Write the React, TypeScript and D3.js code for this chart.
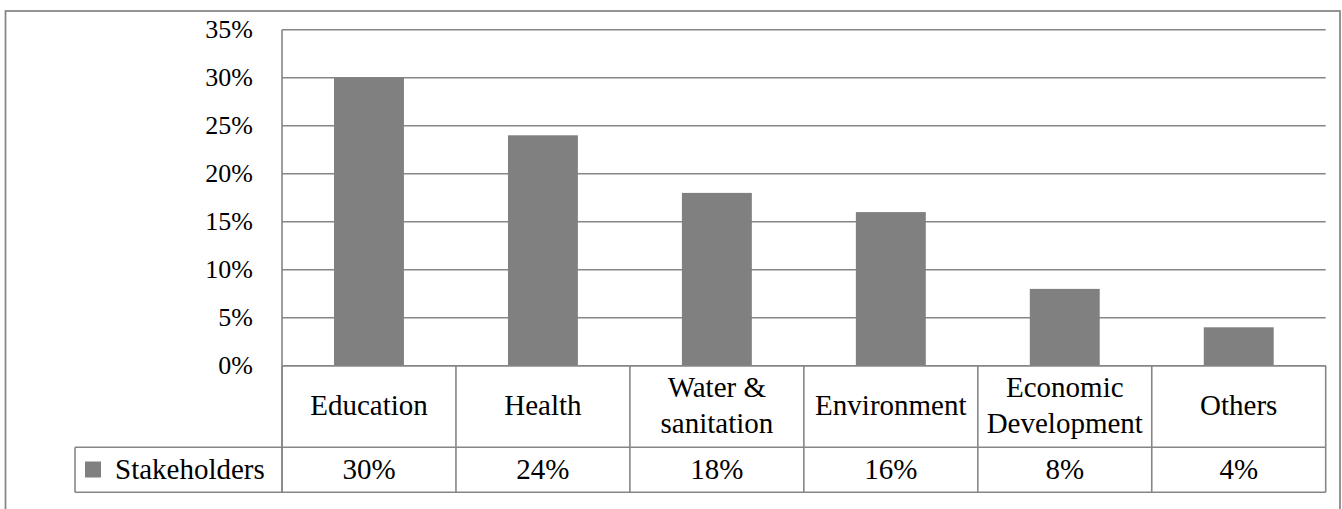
import React from "react";
import * as d3 from "d3";

const categories = ["Education", "Health", "Water & sanitation", "Environment", "Economic Development", "Others"];
const values = [0.30, 0.24, 0.18, 0.16, 0.08, 0.04];
const seriesName = "Stakeholders";
const yTicks = [0, 0.05, 0.1, 0.15, 0.2, 0.25, 0.3, 0.35];

const W = 1342;
const H = 509;
const FONT = "Liberation Serif, Tinos, DejaVu Serif, serif";
const FS = 29;
const GRID = "#868686";
const BAR = "#808080";

function wrap(text: string, maxW: number): string[] {
  let ctx: CanvasRenderingContext2D | null = null;
  try {
    ctx = document.createElement("canvas").getContext("2d");
  } catch (e) {
    ctx = null;
  }
  const measure = (s: string) => {
    if (ctx) {
      ctx.font = `${FS}px ${FONT}`;
      return ctx.measureText(s).width;
    }
    return s.length * FS * 0.48;
  };
  const words = text.split(" ");
  const lines: string[] = [];
  let cur = "";
  for (const w of words) {
    const t = cur ? cur + " " + w : w;
    if (cur && measure(t) > maxW) {
      lines.push(cur);
      cur = w;
    } else cur = t;
  }
  if (cur) lines.push(cur);
  return lines;
}

export default function App() {
  const plotL = 282;
  const plotR = 1325.7;
  const plotT = 29.7;
  const plotB = 365.7;
  const rowMid = 447.3;
  const tableB = 492.3;
  const legendL = 75;

  const y = d3.scaleLinear().domain([0, 0.35]).range([plotB, plotT]);
  const x = d3.scaleBand<string>().domain(categories).range([plotL, plotR]).paddingInner(0.598).paddingOuter(0.299);
  const step = x.step();
  const colEdges = d3.range(categories.length + 1).map((i) => plotL + i * step);
  const fmt = d3.format(".0%");

  return (
    <svg width={W} height={H} style={{ position: "absolute", left: 0, top: 0, background: "#fff", fontFamily: FONT }}>
      <rect x={0} y={0} width={W} height={H} fill="#fff" />
      <rect x={5.5} y={11} width={1334.5} height={620} fill="none" stroke={GRID} strokeWidth={1.75} />

      {yTicks.map((t) => (
        <line key={"g" + t} x1={plotL} x2={plotR} y1={y(t)} y2={y(t)} stroke={GRID} strokeWidth={1.6} />
      ))}

      {categories.map((c, i) => (
        <rect key={"b" + c} x={x(c)} y={y(values[i])} width={x.bandwidth()} height={plotB - y(values[i])} fill={BAR} />
      ))}

      {yTicks.map((t) => (
        <text key={"t" + t} x={253} y={y(t)} dy="0.33em" textAnchor="end" fontSize={26} fill="#000">
          {fmt(t)}
        </text>
      ))}

      <line x1={plotL} x2={plotL} y1={plotT} y2={tableB} stroke={GRID} strokeWidth={1.6} />
      <line x1={plotL} x2={plotR} y1={plotB} y2={plotB} stroke={GRID} strokeWidth={1.6} />
      <line x1={legendL} x2={plotR} y1={rowMid} y2={rowMid} stroke={GRID} strokeWidth={1.6} />
      <line x1={legendL} x2={plotR} y1={tableB} y2={tableB} stroke={GRID} strokeWidth={1.6} />
      <line x1={legendL} x2={legendL} y1={rowMid} y2={tableB} stroke={GRID} strokeWidth={1.6} />
      {colEdges.map((e, i) => (
        <line key={"v" + i} x1={e} x2={e} y1={plotB} y2={tableB} stroke={GRID} strokeWidth={1.6} />
      ))}

      {categories.map((c) => {
        const cx = (x(c) as number) + x.bandwidth() / 2;
        const lines = wrap(c, step - 10);
        const mid = (plotB + rowMid) / 2 - 1;
        const lh = 35.3;
        const start = mid - ((lines.length - 1) * lh) / 2;
        return (
          <text key={"c" + c} x={cx} textAnchor="middle" fontSize={FS} fill="#000">
            {lines.map((l, j) => (
              <tspan key={j} x={cx} y={start + j * lh} dy="0.33em">
                {l}
              </tspan>
            ))}
          </text>
        );
      })}

      <rect x={85} y={461.5} width={16} height={16} fill={BAR} />
      <text x={115} y={(rowMid + tableB) / 2} dy="0.3em" fontSize={FS} fill="#000">
        {seriesName}
      </text>

      {categories.map((c, i) => {
        const cx = (x(c) as number) + x.bandwidth() / 2;
        return (
          <text key={"v" + c} x={cx} y={(rowMid + tableB) / 2} dy="0.3em" textAnchor="middle" fontSize={FS} fill="#000">
            {fmt(values[i])}
          </text>
        );
      })}
    </svg>
  );
}
